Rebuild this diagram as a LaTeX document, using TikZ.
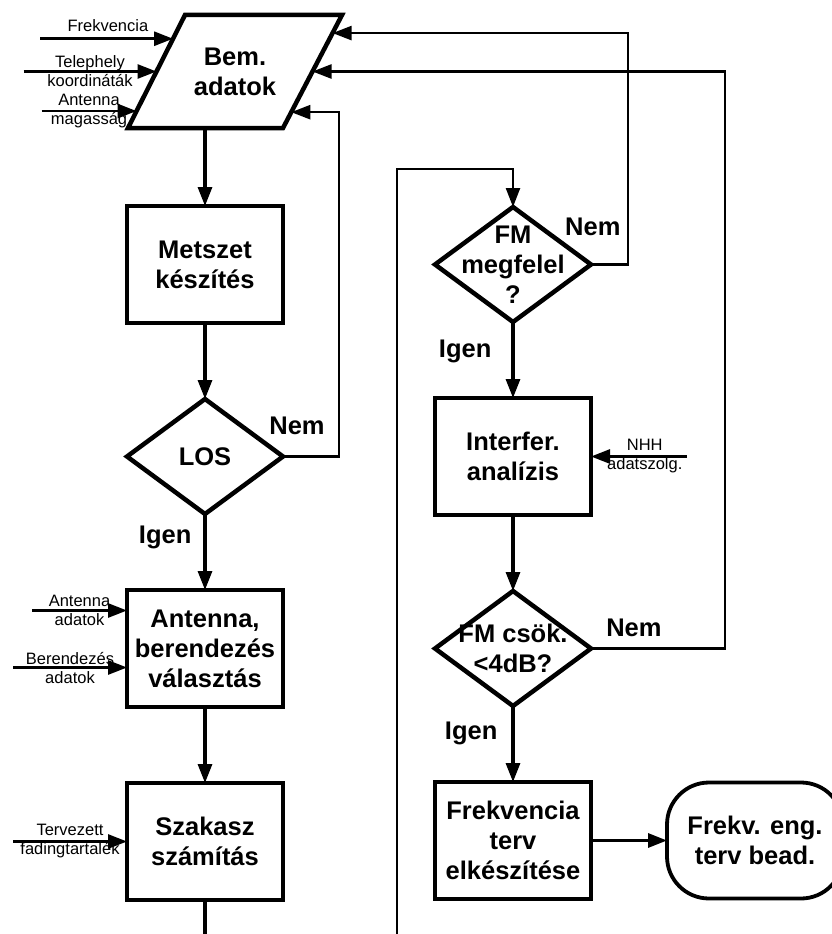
\documentclass[tikz,border=0pt]{standalone}
\usepackage{fontspec}
\setmainfont{Liberation Sans}
\usetikzlibrary{arrows.meta,positioning,shapes.geometric,calc}

\begin{document}
\begin{tikzpicture}[x=1pt,y=-1pt,node distance=76pt,>={Triangle[length=19pt,width=14pt]},
        proc/.style={draw,line width=4.5pt,outer sep=0pt,minimum width=156pt,minimum height=117pt,align=center,font=\bfseries\fontsize{25.5}{30}\selectfont},
        dec/.style={draw,diamond,line width=4.5pt,outer sep=0pt,inner sep=0pt,minimum width=156pt,minimum height=115pt},
        dectext/.style={align=center,font=\bfseries\fontsize{25.5}{30}\selectfont},
        term/.style={draw,rounded corners=42pt,line width=3.8pt,outer sep=0pt,minimum width=176pt,minimum height=116pt,align=center,font=\bfseries\fontsize{25.5}{30}\selectfont},
        lbl/.style={font=\bfseries\fontsize{25.5}{30}\selectfont,inner sep=2pt},
        small/.style={font=\fontsize{16.5}{19}\selectfont,align=center,inner sep=1pt},
        flow/.style={->,line width=3.2pt},
        plain/.style={line width=3.2pt},
        back/.style={->,line width=2.4pt},
        inp/.style={->,line width=2.8pt}]
        \useasboundingbox (0,0) rectangle (831,934);
        % left column
        \node[proc] (metsz) at (205,264.5) {Metszet\\készítés};
        \node[dectext] (bem) at (235,71.5) {Bem.\\adatok};
        \coordinate (bemtl) at ($(bem)+(-50,-56.5)$);
        \coordinate (bemtr) at ($(bem)+(107,-56.5)$);
        \coordinate (bembr) at ($(bem)+(48,56.5)$);
        \coordinate (bembl) at ($(bem)+(-107,56.5)$);
        \draw[line width=4.5pt,line join=miter] (bemtl) -- (bemtr) -- (bembr) -- (bembl) -- cycle;
        \node[dec] (los) [below=of metsz] {};
        \node[dectext] (lostext) at (los) {LOS};
        \node[proc] (ant) [below=of los] {Antenna,\\berendezés\\választás};
        \node[proc] (szak) [below=of ant] {Szakasz\\számítás};
        % right column
        \node[dec,label={[dectext]center:{FM\\megfelel\\?}}] (fmok) [right=152pt of metsz] {};
        \node[proc] (interf) [below=of fmok] {Interfer.\\analízis};
        \node[dec,label={[dectext]center:{FM csök.\\<4dB?}}] (fmcs) [below=of interf] {};
        \node[proc] (fterv) [below=of fmcs] {Frekvencia\\terv\\elkészítése};
        \node[term] (bead) [right=of fterv] {Frekv. eng.\\terv bead.};
        \coordinate (szout) at (205,940);
        \coordinate (loopin) at (397,940);
        \coordinate (frqend) at ($(bemtl)!0.21!(bembl)$);
        \coordinate (telend) at ($(bemtl)!0.5!(bembl)$);
        \coordinate (magend) at ($(bemtl)!0.85!(bembl)$);
        % inputs
        \draw[inp] ($(frqend)+(-133,0)$) -- node[small,above=5pt,pos=0.51] {Frekvencia} (frqend);
        \draw[inp] ($(telend)+(-133,0)$) -- node[small] {Telephely\\koordináták} (telend);
        \draw[inp] ($(magend)+(-95,0)$) -- node[small] {Antenna\\magasság} (magend);
        \draw[inp] ([shift={(-95,-38)}]ant.west) -- node[small] {Antenna\\adatok} ([yshift=38pt]ant.west);
        \draw[inp] ([shift={(-114,19)}]ant.west) -- node[small] {Berendezés\\adatok} ([yshift=-19pt]ant.west);
        \draw[inp] ([xshift=-114pt]szak.west) -- node[small] {Tervezett\\fadingtartalék} (szak.west);
        \draw[inp] ([xshift=96pt]interf.east) -- node[small,pos=0.44] {NHH\\adatszolg.} (interf.east);
        % flow
        \draw[flow] (metsz.north |- bembl) -- (metsz.north);
        \draw[flow] (metsz) -- (los);
        \draw[flow] (los) -- node[lbl,left=10pt,pos=0.31] {Igen} (ant);
        \draw[flow] (ant) -- (szak);
        \draw[plain] (szak) -- (szout);
        \draw[back] (loopin) |- ([yshift=38pt]fmok.north) -- (fmok.north);
        \draw[flow] (fmok) -- node[lbl,left=18pt,pos=0.39] {Igen} (interf);
        \draw[flow] (interf) -- (fmcs);
        \draw[flow] (fmcs) -- node[lbl,left=12pt,pos=0.36] {Igen} (fterv);
        \draw[flow] (fterv) -- (bead);
        % back to input
        \draw[back] (los.east) -- node[lbl,above=19pt,pos=0.25] {Nem} ++(56,0) |- ($(bemtr)!0.86!(bembr)$);
        \draw[back] (fmok.east) -- node[lbl,above=26pt,pos=0.05] {Nem} ++(37,0) |- ($(bemtr)!0.16!(bembr)$);
        \draw[back] (fmcs.east) -- node[lbl,above=9pt,pos=0.32] {Nem} ++(134,0) |- ($(bemtr)!0.5!(bembr)$);
\end{tikzpicture}
\end{document}
